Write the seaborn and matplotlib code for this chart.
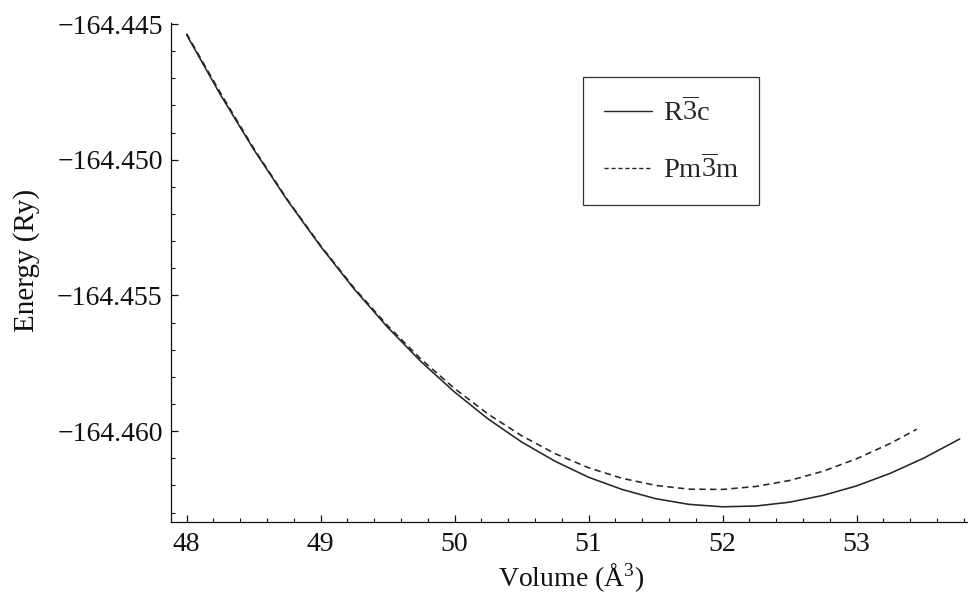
import matplotlib
matplotlib.use("Agg")
import matplotlib.pyplot as plt
import numpy as np
import pandas as pd
import seaborn as sns
from matplotlib.ticker import MultipleLocator, FuncFormatter
from matplotlib.lines import Line2D

# Total energy versus cell volume for the two structures
volume_r3c = [48.00, 48.25, 48.50, 48.75, 49.00, 49.25, 49.50, 49.75, 50.00,
              50.25, 50.50, 50.75, 51.00, 51.25, 51.50, 51.75, 52.00, 52.25,
              52.50, 52.75, 53.00, 53.25, 53.50, 53.77]
energy_r3c = [-164.44539, -164.44758, -164.44961, -164.45148, -164.45319,
              -164.45476, -164.45617, -164.45744, -164.45856, -164.45955,
              -164.46040, -164.46111, -164.46170, -164.46215, -164.46249,
              -164.46270, -164.46279, -164.46276, -164.46262, -164.46237,
              -164.46202, -164.46156, -164.46100, -164.46029]

volume_pm3m = [48.00, 48.25, 48.50, 48.75, 49.00, 49.25, 49.50, 49.75, 50.00,
               50.25, 50.50, 50.75, 51.00, 51.25, 51.50, 51.75, 52.00, 52.25,
               52.50, 52.75, 53.00, 53.25, 53.45]
energy_pm3m = [-164.44535, -164.44751, -164.44957, -164.45145, -164.45316,
               -164.45472, -164.45611, -164.45735, -164.45843, -164.45937,
               -164.46017, -164.46083, -164.46135, -164.46174, -164.46200,
               -164.46214, -164.46215, -164.46204, -164.46182, -164.46148,
               -164.46102, -164.46046, -164.45993]

phase_labels = [r"R$\overline{3}$c", r"Pm$\overline{3}$m"]

x_ticks = [48, 49, 50, 51, 52, 53]
y_ticks = [-164.460, -164.455, -164.450, -164.445]

df = pd.concat([
    pd.DataFrame({"volume": volume_r3c, "energy": energy_r3c,
                  "phase": phase_labels[0]}),
    pd.DataFrame({"volume": volume_pm3m, "energy": energy_pm3m,
                  "phase": phase_labels[1]}),
], ignore_index=True)

sns.set_style("ticks")
plt.rcParams.update({
    "font.family": ["Liberation Serif", "DejaVu Serif"],
    "mathtext.fontset": "custom",
    "mathtext.rm": "Liberation Serif",
    "mathtext.it": "Liberation Serif:italic",
    "mathtext.bf": "Liberation Serif:bold",
    "axes.unicode_minus": True,
})

W, H = 968, 598
fig = plt.figure(figsize=(W / 100, H / 100), dpi=100)
ax = fig.add_axes([171 / W, 1 - 522 / H, (W - 171) / W, (522 - 23) / H])

line_color = "#262626"
dash_pattern = (4, 2.7)
sns.lineplot(data=df, x="volume", y="energy", hue="phase", style="phase",
             palette={phase_labels[0]: line_color, phase_labels[1]: line_color},
             dashes={phase_labels[0]: "", phase_labels[1]: dash_pattern},
             linewidth=1.15, estimator=None, sort=False, legend=False, ax=ax)

ax.set_xlim(47.884, 53.832)
ax.set_ylim(-164.46335, -164.44496)

for side in ("top", "right"):
    ax.spines[side].set_visible(False)
for side in ("left", "bottom"):
    ax.spines[side].set_linewidth(0.9)
    ax.spines[side].set_color("#111111")

tick_fs = 20
ax.set_xticks(x_ticks)
ax.set_yticks(y_ticks)
ax.xaxis.set_minor_locator(MultipleLocator(0.2))
ax.yaxis.set_minor_locator(MultipleLocator(0.001))
ax.yaxis.set_major_formatter(
    FuncFormatter(lambda v, p: f"{v:.3f}".replace("-", "\u2212")))
ax.xaxis.set_major_formatter(FuncFormatter(lambda v, p: f"{v:.0f}"))
ax.tick_params(axis="both", which="major", direction="in", length=5, width=0.9,
               color="#111111", labelsize=tick_fs, labelcolor="#111111")
ax.tick_params(axis="both", which="minor", direction="in", length=2.7, width=0.8,
               color="#111111")
ax.tick_params(axis="y", which="major", pad=6)
ax.tick_params(axis="x", which="major", pad=7)

ax.set_xlabel(r"Volume (Å$^{3}$)", fontsize=20, color="#111111")
ax.xaxis.set_label_coords((571 - 171) / (W - 171), -(578 - 522) / (522 - 23))
ax.xaxis.label.set_verticalalignment("center")
ax.set_ylabel("Energy (Ry)", fontsize=21, color="#111111")
ax.yaxis.set_label_coords(-(171 - 27) / (W - 171), (522 - 260) / (522 - 23))
ax.yaxis.label.set_verticalalignment("center")

leg_fs = 20.5
handles = [
    Line2D([], [], color=line_color, linewidth=1.0, linestyle="-"),
    Line2D([], [], color=line_color, linewidth=1.0, linestyle=(0, (3, 2))),
]
leg = ax.legend(handles, phase_labels, loc="upper left",
                bbox_to_anchor=(583 / W, 1 - 77 / H), bbox_transform=fig.transFigure,
                fontsize=leg_fs, frameon=True, fancybox=False, framealpha=1,
                edgecolor="#333333", handlelength=1.7,
                handletextpad=0.39, labelspacing=1.01, borderpad=0.72,
                borderaxespad=0)
leg.get_frame().set_linewidth(0.9)

fig.savefig("out.png", dpi=100, facecolor="white")
